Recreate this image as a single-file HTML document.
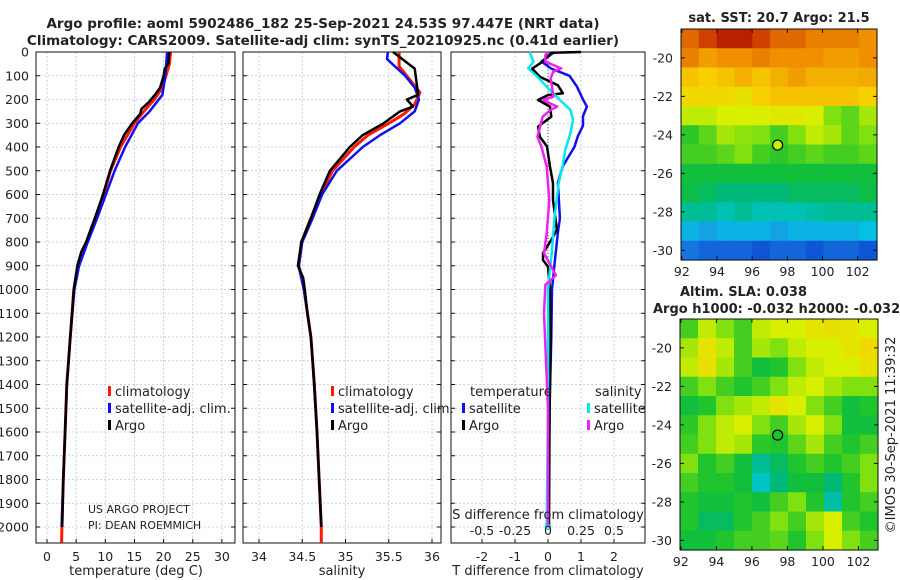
<!DOCTYPE html>
<html><head><meta charset="utf-8"><style>
html,body{margin:0;padding:0;background:#fff;width:900px;height:580px;overflow:hidden}
svg{display:block;font-family:"DejaVu Sans","Liberation Sans",sans-serif}
</style></head><body>
<svg id="c" width="900" height="580" viewBox="0 0 900 580"></svg>
<script>
// ---------- data ----------
const depthTicks=[0,100,200,300,400,500,600,700,800,900,1000,1100,1200,1300,1400,1500,1600,1700,1800,1900,2000];
const tTicks=[0,5,10,15,20,25,30];
const sTicks=[34,34.5,35,35.5,36];
const dtTicks=[-2,-1,0,1,2];
const dsTickLabels=["-0.5","-0.25","0","0.25","0.5"];
const argoTDepth=[0,50,70,100,150,180,210,240,260,300,350,400,500,600,700,800,840,900,1000,1100,1200,1300,1400,1600,1800,2000];
const argoTVal=[21,20.8,20.2,20,19.4,18.5,17.5,16.2,16,14.6,13.2,12.3,10.8,9.6,8.2,6.7,5.9,5.2,4.6,4.3,4.0,3.7,3.4,3.1,2.8,2.6];
const climTDepth=[0,50,100,150,200,250,300,400,500,600,700,800,850,900,1000,1200,1400,1600,1800,2000,2065];
const climTVal=[21.2,21,20.4,19.8,18.4,16.6,15,12.6,10.9,9.7,8.3,6.8,6,5.3,4.6,4.0,3.4,3.1,2.8,2.55,2.5];
const satTDepth=[0,100,180,250,300,400,500,600,700,800,900,1000,1200,1400,1600,1800,2000];
const satTVal=[20.6,20.3,19.8,17.6,15.6,13.4,11.6,10.1,8.6,7,5.5,4.7,4.0,3.4,3.1,2.8,2.5];
const argoSDepth=[0,70,180,200,230,250,300,350,400,500,600,700,800,900,950,1000,1100,1200,1300,1600,2000];
const argoSVal=[35.55,35.8,35.84,35.71,35.78,35.63,35.44,35.2,35.05,34.82,34.7,34.6,34.49,34.45,34.51,34.53,34.56,34.6,34.62,34.67,34.72];
const climSDepth=[0,60,170,220,260,300,350,400,500,600,700,800,900,1000,1200,1400,1600,2000,2065];
const climSVal=[35.62,35.62,35.86,35.8,35.68,35.5,35.26,35.1,34.85,34.71,34.6,34.49,34.46,34.52,34.6,34.64,34.67,34.72,34.72];
const satSDepth=[0,30,100,150,200,250,300,350,400,500,600,700,800,900,1000,1200,1400,1600,2000];
const satSVal=[35.49,35.48,35.69,35.8,35.85,35.8,35.63,35.4,35.2,34.9,34.73,34.62,34.5,34.46,34.52,34.6,34.64,34.67,34.72];
const dTsatDepth=[0,40,70,100,146,200,230,270,310,356,400,480,550,700,760,890,1000,1200,1500,2000];
const dTsatVal=[0.2,-0.2,0.1,0.65,0.88,1.06,1.18,1.06,1.06,0.9,0.8,0.45,0.3,0.36,0.3,0.2,0.12,0.1,0.05,0.0];
const dTargoDepth=[0,3,40,70,104,140,174,181,202,230,272,314,356,398,483,553,623,749,791,847,876,904,1001,1200,1500,2000];
const dTargoVal=[1.0,0.1,-0.15,-0.48,-0.25,0.3,0.45,0.0,-0.3,0.06,0.1,-0.3,-0.25,-0.03,0.06,0.15,0.15,0.27,0.1,-0.15,-0.15,0.0,0.06,0.08,0.05,0.03];
const dSsatDepth=[0,41,69,104,146,202,244,286,342,413,483,553,693,833,1001,1500,2000];
const dSsatVal=[-0.14,-0.11,-0.15,-0.08,-0.01,0.09,0.17,0.19,0.17,0.13,0.11,0.08,0.05,0.03,0.0,0.0,-0.01];
const dSargoDepth=[0,13,41,69,83,111,146,188,202,230,244,272,314,356,398,483,623,763,847,940,980,1100,1500,2000];
const dSargoVal=[0,-0.02,-0.02,0.1,0.04,0.02,0.03,0.04,-0.04,0.07,0.02,-0.04,-0.06,-0.08,-0.05,-0.01,0.01,-0.01,-0.03,0.06,-0.02,-0.03,0.0,0.0];
const lonTicks=[92,94,96,98,100,102];
const latTicks=[-20,-22,-24,-26,-28,-30];
const sstGrid=[
[0.85,0.9,0.95,0.95,0.9,0.85,0.85,0.82,0.82,0.82,0.8],
[0.82,0.78,0.8,0.8,0.82,0.8,0.8,0.8,0.78,0.78,0.8],
[0.72,0.7,0.72,0.75,0.72,0.75,0.78,0.75,0.75,0.75,0.76],
[0.68,0.68,0.68,0.66,0.7,0.72,0.72,0.72,0.72,0.72,0.7],
[0.6,0.6,0.62,0.62,0.62,0.64,0.64,0.62,0.55,0.52,0.58],
[0.48,0.52,0.58,0.56,0.55,0.5,0.55,0.6,0.58,0.52,0.55],
[0.5,0.5,0.52,0.55,0.5,0.48,0.5,0.52,0.5,0.5,0.52],
[0.45,0.45,0.45,0.45,0.45,0.45,0.45,0.45,0.45,0.45,0.45],
[0.44,0.42,0.4,0.4,0.4,0.4,0.42,0.42,0.42,0.42,0.44],
[0.38,0.38,0.36,0.38,0.36,0.36,0.36,0.37,0.38,0.38,0.38],
[0.3,0.28,0.3,0.3,0.3,0.28,0.3,0.3,0.3,0.3,0.32],
[0.22,0.2,0.2,0.2,0.18,0.2,0.2,0.18,0.2,0.2,0.18]];
const slaGrid=[
[0.5,0.6,0.55,0.5,0.6,0.62,0.62,0.65,0.66,0.65,0.62],
[0.58,0.65,0.6,0.5,0.58,0.55,0.6,0.62,0.62,0.65,0.68],
[0.6,0.66,0.58,0.5,0.45,0.47,0.55,0.6,0.62,0.62,0.66],
[0.5,0.55,0.5,0.47,0.5,0.55,0.6,0.62,0.58,0.55,0.55],
[0.45,0.47,0.55,0.58,0.6,0.65,0.62,0.55,0.5,0.45,0.47],
[0.48,0.55,0.6,0.62,0.55,0.5,0.58,0.62,0.55,0.45,0.45],
[0.5,0.55,0.6,0.58,0.48,0.47,0.52,0.58,0.5,0.47,0.5],
[0.55,0.47,0.5,0.45,0.38,0.42,0.47,0.5,0.47,0.5,0.55],
[0.5,0.47,0.47,0.45,0.35,0.4,0.45,0.45,0.4,0.47,0.55],
[0.47,0.45,0.45,0.47,0.45,0.5,0.55,0.47,0.37,0.47,0.5],
[0.47,0.42,0.42,0.47,0.5,0.55,0.5,0.58,0.62,0.5,0.47],
[0.45,0.45,0.47,0.5,0.5,0.52,0.47,0.55,0.62,0.55,0.5]];
const argoLon=97.447, argoLat=-24.53;

// ---------- helpers ----------
const svg=document.getElementById('c');
const NS='http://www.w3.org/2000/svg';
function mk(tag,attrs,parent){const e=document.createElementNS(NS,tag);for(const k in attrs)e.setAttribute(k,attrs[k]);(parent||svg).appendChild(e);return e;}
function txt(s,x,y,size,anchor,weight,parent){const t=mk('text',{x:x,y:y,'font-size':size,'text-anchor':anchor||'middle','font-weight':weight||'normal',fill:'#222'},parent);t.textContent=s;return t;}
const Y0=52, PXM=0.2375;
const yD=d=>Y0+d*PXM;
const xT=v=>47+v*5.83;
const xS=v=>259+(v-34)*86.5;
const xDT=v=>548+v*33;
const xDS=v=>548+v*132;
function line(ds,vs,fx,color,w,name){
  let p='';for(let i=0;i<ds.length;i++)p+=(i?'L':'M')+fx(vs[i]).toFixed(1)+','+yD(ds[i]).toFixed(1);
  const e=mk('path',{d:p,fill:'none',stroke:color,'stroke-width':w,'stroke-linejoin':'round'});
  
  
}
function panel(x0,x1,ticks,fx,labels,name){
  const g=mk('g',{});
  
  
  const yb=543;
  depthTicks.forEach(d=>mk('line',{x1:x0,x2:x1,y1:yD(d),y2:yD(d),stroke:'#bcc4ea','stroke-width':0.8,'stroke-dasharray':'2,2'},g));
  ticks.forEach(t=>mk('line',{x1:fx(t),x2:fx(t),y1:Y0,y2:yb,stroke:'#bcc4ea','stroke-width':0.8,'stroke-dasharray':'2,2'},g));
  mk('rect',{x:x0,y:Y0,width:x1-x0,height:yb-Y0,fill:'none',stroke:'#111','stroke-width':1},g);
  depthTicks.forEach(d=>{mk('line',{x1:x0,x2:x0+4,y1:yD(d),y2:yD(d),stroke:'#111'},g);mk('line',{x1:x1-4,x2:x1,y1:yD(d),y2:yD(d),stroke:'#111'},g);});
  ticks.forEach((t,i)=>{mk('line',{x1:fx(t),x2:fx(t),y1:yb,y2:yb-4,stroke:'#111'},g);txt(labels?labels[i]:String(t),fx(t),561,12.5,'middle','normal',g);});
  return g;
}
// ---------- titles ----------
txt('Argo profile: aoml 5902486_182 25-Sep-2021 24.53S 97.447E (NRT data)',323,28,13.5,'middle','bold');
txt('Climatology: CARS2009. Satellite-adj clim: synTS_20210925.nc (0.41d earlier)',323,45,13.5,'middle','bold');
// ---------- panels ----------
const p1=panel(36,235,tTicks,xT,null,'temperature-panel');
depthTicks.forEach(d=>txt(String(d),29,yD(d)+4.5,12.5,'end'));
txt('temperature (deg C)',136,575,13);
const p2=panel(243,441,sTicks,xS,null,'salinity-panel');
txt('salinity',342,575,13);
const p3=panel(451,645,dtTicks,xDT,null,'difference-panel');
txt('T difference from climatology',548,575,13);
// zero dotted line
mk('line',{x1:548,x2:548,y1:yD(0),y2:yD(900),stroke:'#555','stroke-width':1,'stroke-dasharray':'1,2'});
// series
line(climTDepth,climTVal,xT,'#ff1a00',3,'temp-climatology-line');
line(satTDepth,satTVal,xT,'#1010ee',2.5,'temp-satellite-line');
line(argoTDepth,argoTVal,xT,'#000',2.5,'temp-argo-line');
line(climSDepth,climSVal,xS,'#ff1a00',3,'sal-climatology-line');
line(satSDepth,satSVal,xS,'#1010ee',2.5,'sal-satellite-line');
line(argoSDepth,argoSVal,xS,'#000',2.5,'sal-argo-line');
line(dTsatDepth,dTsatVal,xDT,'#1010ee',2.5,'dt-satellite-line');
line(dTargoDepth,dTargoVal,xDT,'#000',2.5,'dt-argo-line');
line(dSsatDepth,dSsatVal,xDS,'#00e8f0',2.5,'ds-satellite-line');
line(dSargoDepth,dSargoVal,xDS,'#f020f0',2.5,'ds-argo-line');
mk('circle',{cx:548,cy:yD(2000),r:2.5,fill:'none',stroke:'#00c0e0','stroke-width':1.2});
// S diff axis labels
txt('S difference from climatology',548,519,13);
dsTickLabels.forEach((s,i)=>txt(s,xDS(parseFloat(s)),535,12.5));
// credits
txt('US ARGO PROJECT',88,513,11,'start');
txt('PI: DEAN ROEMMICH',88,529,11,'start');
// legends
function legend(x,y,items,name){
  const g=mk('g',{});
  items.forEach((it,i)=>{mk('rect',{x:x,y:y+i*17-10,width:3,height:10,fill:it[1]},g);txt(it[0],x+7,y+i*17,13,'start','normal',g);});
}
legend(108,396,[['climatology','#ff1a00'],['satellite-adj. clim.','#1010ee'],['Argo','#000']],'temperature-legend');
legend(331,396,[['climatology','#ff1a00'],['satellite-adj. clim.','#1010ee'],['Argo','#000']],'salinity-legend');
txt('temperature',470,396,13,'start');
txt('salinity',595,396,13,'start');
legend(462,413,[['satellite','#1010ee'],['Argo','#000']],'t-diff-legend');
legend(587,413,[['satellite','#00e8f0'],['Argo','#f020f0']],'s-diff-legend');
// ---------- maps ----------
const cstops=[[0,[0,0,140]],[0.12,[0,40,200]],[0.25,[30,140,230]],[0.33,[0,200,225]],[0.4,[0,184,120]],[0.46,[20,192,48]],[0.55,[128,224,16]],[0.62,[216,240,0]],[0.7,[248,208,0]],[0.8,[240,144,0]],[0.9,[208,64,0]],[1,[160,0,0]]];
function cmap(v){for(let i=1;i<cstops.length;i++){if(v<=cstops[i][0]){const a=cstops[i-1],b=cstops[i],f=(v-a[0])/(b[0]-a[0]);return 'rgb('+a[1].map((c,k)=>Math.round(c+(b[1][k]-c)*f)).join(',')+')';}}return 'rgb(160,0,0)';}
function map(x0,x1,y0,y1,grid,name,dotColor){
  const g=mk('g',{});
  const lonA=91.95,lonB=103.1,latA=-18.5,latB=-30.5;
  const fx=l=>x0+(l-lonA)/(lonB-lonA)*(x1-x0);
  const fy=l=>y0+(l-latA)/(latB-latA)*(y1-y0);
  const nr=grid.length,nc=grid[0].length,cw=(x1-x0)/nc,ch=(y1-y0)/nr;
  grid.forEach((row,r)=>row.forEach((v,c)=>{const e=mk('rect',{x:x0+c*cw,y:y0+r*ch,width:cw+0.6,height:ch+0.6,fill:cmap(v)},g);}));
  mk('rect',{x:x0,y:y0,width:x1-x0,height:y1-y0,fill:'none',stroke:'#111'},g);
  lonTicks.forEach(l=>{mk('line',{x1:fx(l),x2:fx(l),y1:y1,y2:y1-4,stroke:'#111'},g);mk('line',{x1:fx(l),x2:fx(l),y1:y0,y2:y0+4,stroke:'#111'},g);txt(String(l),fx(l),y1+16,12.5,'middle','normal',g);});
  latTicks.forEach(l=>{mk('line',{x1:x0,x2:x0+4,y1:fy(l),y2:fy(l),stroke:'#111'},g);mk('line',{x1:x1-4,x2:x1,y1:fy(l),y2:fy(l),stroke:'#111'},g);txt(String(l),x0-8,fy(l)+4.5,12.5,'end','normal',g);});
  const d=mk('circle',{cx:fx(argoLon),cy:fy(argoLat),r:5,fill:dotColor,stroke:'#000','stroke-width':1.2},g);
  
}
map(681,877,29,260,sstGrid,'sst-map','#c8f000');
map(680,878,319,550,slaGrid,'sla-map','#20c030');
txt('sat. SST: 20.7 Argo: 21.5',779,22,13,'middle','bold');
txt('Altim. SLA: 0.038',680,296,13,'start','bold');
txt('Argo h1000: -0.032 h2000: -0.032',653,313,13,'start','bold');
const cr=txt('©IMOS 30-Sep-2021 11:39:32',0,0,13,'middle');
cr.setAttribute('transform','translate(895,435) rotate(-90)');

</script>
</body></html>
